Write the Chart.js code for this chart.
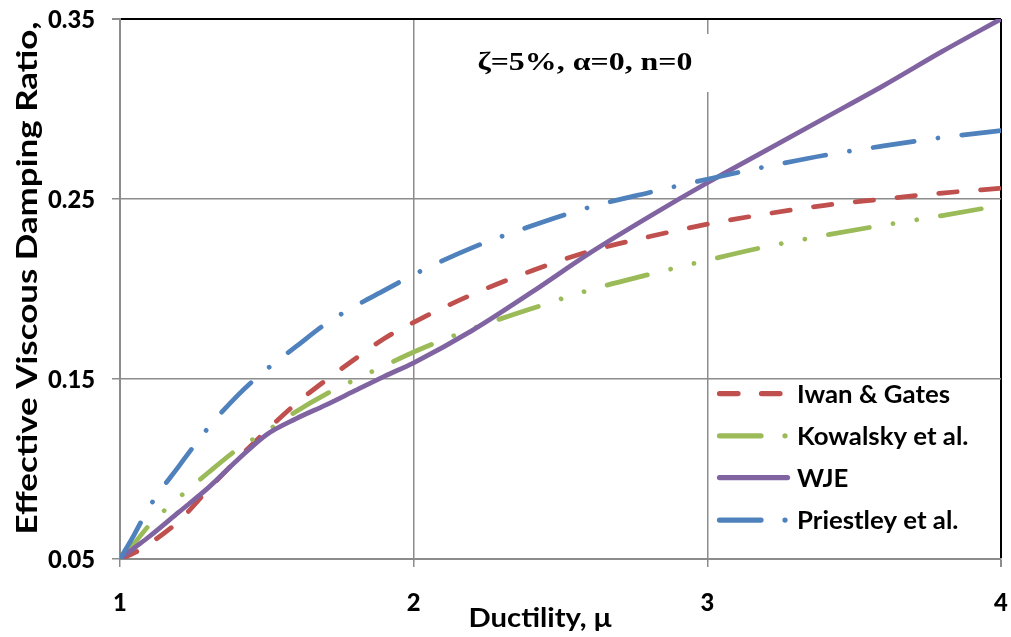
<!DOCTYPE html>
<html>
<head>
<meta charset="utf-8">
<script src="https://cdn.jsdelivr.net/npm/chart.js@4/dist/chart.umd.min.js"></script>
<style>
  html, body { margin: 0; padding: 0; background: #ffffff; }
  #wrap { width: 1011px; height: 637px; }
</style>
</head>
<body>
<div id="wrap"><canvas id="c" width="1011" height="637"></canvas></div>
<script>
// ---------------- data ----------------
const ductility = [1, 1.05, 1.1, 1.2, 1.3, 1.4, 1.5, 1.6, 1.7, 1.8, 1.9, 2.0, 2.2, 2.4, 2.6, 2.8, 3.0, 3.2, 3.4, 3.6, 3.8, 4.0];
const iwanGates = [0.05, 0.0535, 0.0585, 0.071, 0.0885, 0.1055, 0.1215, 0.1364, 0.1492, 0.1611, 0.1725, 0.1815, 0.197, 0.210, 0.221, 0.229, 0.236, 0.2417, 0.2465, 0.250, 0.2533, 0.256];
const kowalsky  = [0.05, 0.059, 0.0689, 0.084, 0.0979, 0.111, 0.1211, 0.132, 0.1415, 0.1496, 0.1573, 0.165, 0.178, 0.189, 0.1995, 0.208, 0.216, 0.2235, 0.2298, 0.2355, 0.2408, 0.2465];
const wje       = [0.05, 0.0563, 0.0625, 0.076, 0.0895, 0.105, 0.1192, 0.128, 0.1355, 0.1435, 0.1515, 0.159, 0.177, 0.198, 0.220, 0.240, 0.259, 0.277, 0.295, 0.313, 0.332, 0.35];
const priestley = [0.05, 0.064, 0.079, 0.1015, 0.1228, 0.1408, 0.1555, 0.1681, 0.1806, 0.1904, 0.1992, 0.208, 0.223, 0.235, 0.2455, 0.2535, 0.261, 0.268, 0.2743, 0.2795, 0.2842, 0.288];

const seriesNames = ['Iwan & Gates', 'Kowalsky et al.', 'WJE', 'Priestley et al.'];
const xTickValues = [1, 2, 3, 4];
const xTickLabels = ['1', '2', '3', '4'];
const yTickValues = [0.05, 0.15, 0.25, 0.35];
const yTickLabels = ['0.05', '0.15', '0.25', '0.35'];
const xTitle = 'Ductility, μ';
const yTitle = 'Effective Viscous Damping Ratio,';
const noteText = 'ζ=5%, α=0, n=0';

// ---------------- styles ----------------
const colors = ['#C0504D', '#9BBB59', '#8064A2', '#4F81BD'];
const dashes = [[18.5, 23.5], [41.5, 24, 0.01, 24, 0.01, 24], [], [41.5, 24, 0.01, 24]];
const LW = 4.75;
const GRID = '#8c8c8c';

function pts(ys) { return ductility.map((x, i) => ({ x: x, y: ys[i] })); }
const allSeries = [iwanGates, kowalsky, wje, priestley];

const datasets = allSeries.map((ys, i) => ({
  label: seriesNames[i],
  data: pts(ys),
  borderColor: colors[i],
  backgroundColor: colors[i],
  borderWidth: LW,
  borderDash: dashes[i],
  borderCapStyle: 'round',
  borderJoinStyle: 'round',
  pointRadius: 0,
  pointHoverRadius: 0,
  fill: false,
  tension: 0.4,
  cubicInterpolationMode: 'monotone',
  order: 4 - i
}));

// ---------------- text helper ----------------
const capCache = {};
function capRatio(font) {
  if (capCache[font]) return capCache[font];
  const c = document.createElement('canvas').getContext('2d');
  c.font = font.replace('{S}', '100px');
  const m = c.measureText('H');
  capCache[font] = (m.actualBoundingBoxAscent || 72) / 100;
  return capCache[font];
}
function setFont(ctx, font, capH) {
  const size = capH / capRatio(font);
  ctx.font = font.replace('{S}', size.toFixed(2) + 'px');
}
function scaleFor(ctx, font, capH, refText, targetW) {
  setFont(ctx, font, capH);
  return targetW / ctx.measureText(refText).width;
}
function drawText(ctx, text, font, capH, x, yCenter, align, sx, rot) {
  ctx.save();
  setFont(ctx, font, capH);
  ctx.translate(x, yCenter);
  if (rot) ctx.rotate(rot);
  ctx.scale(sx, 1);
  ctx.textAlign = align;
  ctx.textBaseline = 'alphabetic';
  ctx.fillStyle = '#000';
  ctx.fillText(text, 0, capH / 2);
  ctx.restore();
}

const SANS = 'bold {S} Lato, "Open Sans", sans-serif';
const SANS_HEAVY = '900 {S} Lato, "Open Sans", sans-serif';
const SERIF = 'bold {S} "Liberation Serif", "DejaVu Serif", serif';

const textPlugin = {
  id: 'texts',
  afterDraw(chart) {
    const ctx = chart.ctx;
    const xs = chart.scales.x, ys = chart.scales.y;

    // tick labels (positions from the library's scales)
    const tickCap = 17.5;
    const tsx = scaleFor(ctx, SANS_HEAVY, tickCap, '0.05', 47);
    yTickValues.forEach((v, i) => {
      drawText(ctx, yTickLabels[i], SANS_HEAVY, tickCap, 95, ys.getPixelForValue(v), 'right', tsx);
    });
    xTickValues.forEach((v, i) => {
      drawText(ctx, xTickLabels[i], SANS_HEAVY, tickCap, xs.getPixelForValue(v), 602, 'center', tsx);
    });

    // axis titles
    const ysx = scaleFor(ctx, SANS, 20.5, yTitle, 513);
    drawText(ctx, yTitle, SANS, 20.5, 27, 278, 'center', ysx, -Math.PI / 2);
    const xsx = scaleFor(ctx, SANS, 19.5, xTitle, 143);
    drawText(ctx, xTitle, SANS, 19.5, 540, 617.5, 'center', xsx);

    // annotation box
    ctx.save();
    ctx.fillStyle = '#fff';
    ctx.fillRect(462, 34, 252, 58);
    ctx.restore();
    const nsx = scaleFor(ctx, SERIF, 17, noteText, 215);
    drawText(ctx, noteText, SERIF, 17, 585, 61.3, 'center', nsx);

    // legend
    const rows = [393.5, 435.8, 477.5, 520];
    const lsx = scaleFor(ctx, SANS, 17.5, seriesNames[0], 153);
    rows.forEach((yy, i) => {
      ctx.save();
      ctx.strokeStyle = colors[i];
      ctx.lineWidth = LW + 0.5;
      ctx.lineCap = 'round';
      ctx.setLineDash(dashes[i]);
      ctx.beginPath();
      ctx.moveTo(719.5, yy);
      ctx.lineTo(787.5, yy);
      ctx.stroke();
      ctx.restore();
      drawText(ctx, seriesNames[i], SANS, 17.5, 797, yy + 0.5, 'left', lsx);
    });
  }
};

const chart = new Chart(document.getElementById('c'), {
  type: 'line',
  data: { datasets: datasets },
  options: {
    responsive: false,
    devicePixelRatio: 1,
    animation: false,
    events: [],
    layout: { padding: { left: 0, top: 19, right: 10, bottom: 0 } },
    plugins: { legend: { display: false }, tooltip: { enabled: false }, title: { display: false } },
    scales: {
      x: {
        type: 'linear',
        min: 1, max: 4,
        afterBuildTicks: (s) => { s.ticks = xTickValues.map(v => ({ value: v })); },
        afterFit: (s) => { s.height = 78; },
        ticks: { display: false },
        grid: {
          color: (c) => (c.tick && c.tick.value === 4 ? '#000000' : GRID),
          lineWidth: (c) => (c.tick && c.tick.value === 4 ? 2 : 1.5),
          tickColor: GRID,
          tickLength: 8,
          drawTicks: true
        },
        border: { display: true, color: GRID, width: 2 }
      },
      y: {
        type: 'linear',
        min: 0.05, max: 0.35,
        afterBuildTicks: (s) => { s.ticks = yTickValues.map(v => ({ value: v })); },
        afterFit: (s) => { s.width = 120; },
        ticks: { display: false },
        grid: {
          color: (c) => (c.tick && Math.abs(c.tick.value - 0.35) < 1e-9 ? '#000000' : GRID),
          lineWidth: (c) => (c.tick && Math.abs(c.tick.value - 0.35) < 1e-9 ? 2 : 1.5),
          tickColor: GRID,
          tickLength: 8,
          drawTicks: true
        },
        border: { display: true, color: GRID, width: 2 }
      }
    }
  },
  plugins: [textPlugin]
});
</script>
</body>
</html>
